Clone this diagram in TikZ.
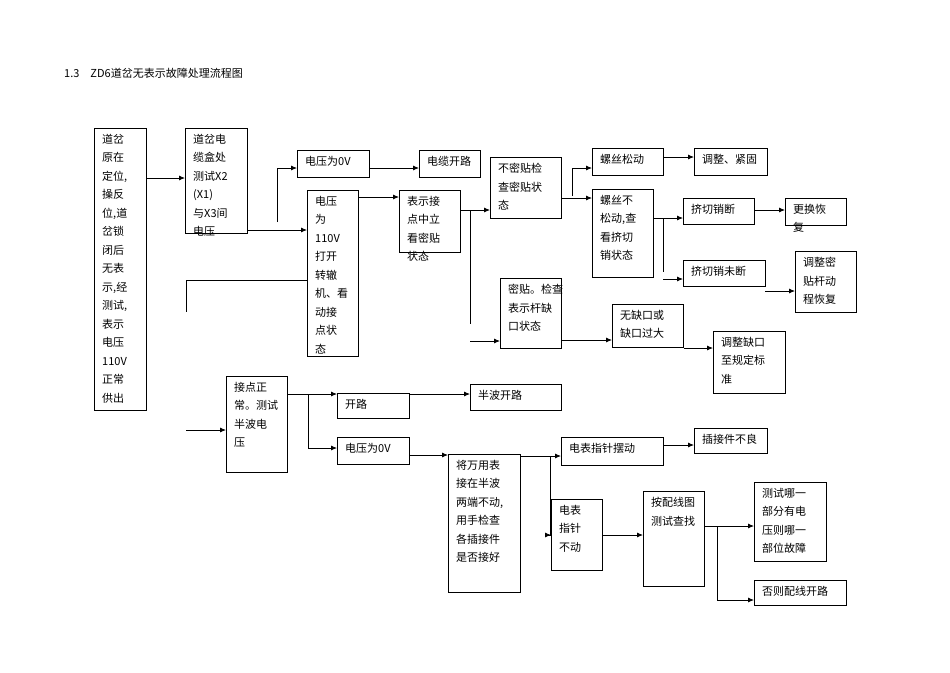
\documentclass[tikz,border=0pt]{standalone}
\usepackage{fontspec}
\setmainfont{Noto Sans CJK SC}
\usetikzlibrary{arrows.meta}
\tikzset{
  bx/.style={draw,line width=0.8pt,inner sep=0pt,anchor=north west},
  txt/.style={anchor=north west,align=left,inner sep=0pt,font=\fontsize{11}{18.5}\selectfont},
  arr/.style={line width=0.8pt,-{Latex[length=6pt,width=5pt]}},
  ln/.style={line width=0.8pt}
}
\newcommand\bx[6]{%
  \node[bx,minimum width={(#4-#2)*1pt},minimum height={(#5-#3)*1pt}] (#1) at (#2,#3) {};
  \node[txt] (#1t) at ({#2+8},{#3+6}) {#6};}
\begin{document}
\begin{tikzpicture}[x=1pt,y=-1pt]
\useasboundingbox (0,0) rectangle (950,672);
\node[anchor=west,inner sep=0pt,font=\fontsize{11}{13}\selectfont] (title) at (64,73) {1.3\quad ZD6道岔无表示故障处理流程图};
\bx{m}{94}{128}{146}{410}{道岔\\原在\\定位,\\操反\\位,道\\岔锁\\闭后\\无表\\示,经\\测试,\\表示\\电压\\110V\\正常\\供出}
\bx{b2}{185}{128}{247}{233}{道岔电\\缆盒处\\测试X2\\(X1)\\与X3间\\电压}
\bx{b3}{297}{150}{369}{177}{电压为0V}
\bx{b4}{419}{150}{480}{177}{电缆开路}
\bx{b5}{307}{190}{358}{356}{电压\\为\\110V\\打开\\转辙\\机、看\\动接\\点状\\态}
\bx{b6}{399}{190}{460}{252}{表示接\\点中立\\看密贴\\状态}
\bx{b7}{490}{157}{561}{218}{不密贴检\\查密贴状\\态}
\bx{b8}{592}{148}{663}{175}{螺丝松动}
\bx{b9}{694}{148}{767}{175}{调整、紧固}
\bx{b10}{592}{189}{653}{277}{螺丝不\\松动,查\\看挤切\\销状态}
\bx{b11}{683}{198}{754}{224}{挤切销断}
\bx{b12}{785}{198}{846}{225}{更换恢\\复}
\bx{b13}{683}{260}{765}{286}{挤切销未断}
\bx{b14}{795}{251}{856}{312}{调整密\\贴杆动\\程恢复}
\bx{b15}{500}{278}{561}{348}{密贴。检查\\表示杆缺\\口状态}
\bx{b16}{612}{304}{683}{347}{无缺口或\\缺口过大}
\bx{b17}{713}{331}{785}{393}{调整缺口\\至规定标\\准}
\bx{b18}{226}{376}{287}{472}{接点正\\常。测试\\半波电\\压}
\bx{b19}{337}{393}{409}{418}{开路}
\bx{b20}{470}{384}{561}{410}{半波开路}
\bx{b21}{337}{437}{409}{464}{电压为0V}
\bx{b22}{448}{454}{520}{592}{将万用表\\接在半波\\两端不动,\\用手检查\\各插接件\\是否接好}
\bx{b23}{561}{437}{663}{465}{电表指针摆动}
\bx{b24}{694}{428}{767}{453}{插接件不良}
\bx{b25}{551}{499}{602}{570}{电表\\指针\\不动}
\bx{b26}{643}{491}{704}{586}{按配线图\\测试查找}
\bx{b27}{754}{482}{826}{561}{测试哪一\\部分有电\\压则哪一\\部位故障}
\bx{b28}{754}{580}{846}{605}{否则配线开路}
% connectors
\draw[arr] (m.east|-0,178) -- (b2.west|-0,178);
\draw[arr] (b2.east|-0,230) -- (b5.west|-0,230);
\draw[arr] (277,222) |- (b3.west|-0,168);
\draw[arr] (b3.east|-0,168) -- (b4.west|-0,168);
\draw[arr] (b5.east|-0,197) -- (b6.west|-0,197);
\draw[arr] (b6.east|-0,210) -- (b7.west|-0,210);
\draw[ln] (470,210) -- (470,324);
\draw[arr] (470,341) -- (b15.west|-0,341);
\draw[arr] (b7.east|-0,198) -- (b10.west|-0,198);
\draw[arr] (572,196) |- (b8.west|-0,168);
\draw[arr] (b8.east|-0,157) -- (b9.west|-0,157);
\draw[arr] (b10.east|-0,218) -- (b11.west|-0,218);
\draw[ln] (663,218) -- (663,272);
\draw[arr] (663,279) -- (b13.west|-0,279);
\draw[arr] (b11.east|-0,210) -- (b12.west|-0,210);
\draw[arr] (765,291) -- (b14.west|-0,291);
\draw[arr] (b15.east|-0,340) -- (b16.west|-0,340);
\draw[arr] (b16.east|-0,348) -- (b17.west|-0,348);
\draw[ln] (b5.west|-0,280) -- (186,280) -- (186,312);
\draw[arr] (186,430) -- (b18.west|-0,430);
\draw[arr] (b18.east|-0,394) -- (b19.west|-0,394);
\draw[arr] (308,394) |- (b21.west|-0,448);
\draw[arr] (b19.east|-0,394) -- (b20.west|-0,394);
\draw[arr] (b21.east|-0,455) -- (b22.west|-0,455);
\draw[arr] (b22.east|-0,456) -- (b23.west|-0,456);
\draw[arr] (550,456) |- (b25.west|-0,535);
\draw[arr] (b23.east|-0,445) -- (b24.west|-0,445);
\draw[arr] (b25.east|-0,535) -- (b26.west|-0,535);
\draw[arr] (b26.east|-0,526) -- (b27.west|-0,526);
\draw[arr] (717,526) |- (b28.west|-0,600);
\end{tikzpicture}
\end{document}
